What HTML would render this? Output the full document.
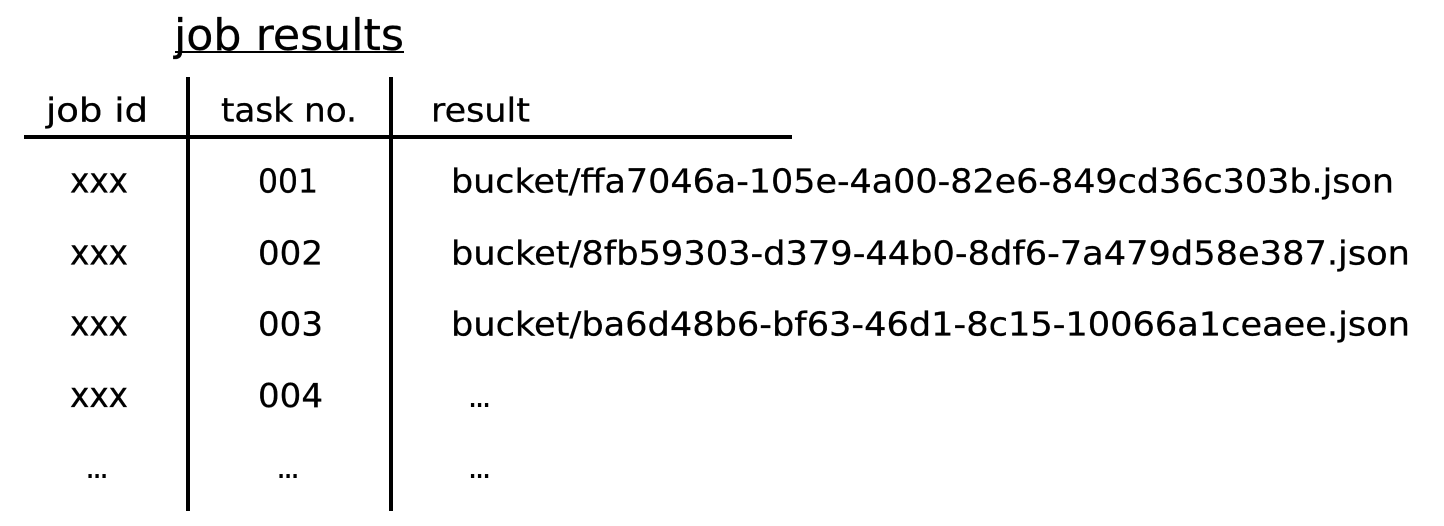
<!DOCTYPE html>
<html>
<head>
<meta charset="utf-8">
<style>
html,body{margin:0;padding:0;background:#fff;width:1444px;height:526px;overflow:hidden}
svg{display:block}
text{font-family:"DejaVu Sans","Liberation Sans",sans-serif;fill:#000;stroke:#000;stroke-width:.3px}
</style>
</head>
<body>
<svg width="1444" height="526" viewBox="0 0 1444 526" xmlns="http://www.w3.org/2000/svg">
<rect width="1444" height="526" fill="#fff"/>
<text x="174" y="50" font-size="44" textLength="230" lengthAdjust="spacingAndGlyphs">job results</text>
<rect x="175" y="51" width="229" height="2" fill="#000"/>
<rect x="186" y="77" width="4" height="434" fill="#000"/>
<rect x="389" y="77" width="4" height="434" fill="#000"/>
<rect x="24" y="135" width="768" height="4" fill="#000"/>

<g font-size="33">
<text x="46" y="121.5" textLength="102" lengthAdjust="spacingAndGlyphs">job id</text>
<text x="221" y="121.5" textLength="136" lengthAdjust="spacingAndGlyphs">task no.</text>
<text x="431" y="121.5" textLength="99" lengthAdjust="spacingAndGlyphs">result</text>

<text x="70" y="192.5" font-size="35" textLength="58" lengthAdjust="spacingAndGlyphs">xxx</text>
<text x="70" y="264.5" font-size="35" textLength="58" lengthAdjust="spacingAndGlyphs">xxx</text>
<text x="70" y="335.5" font-size="35" textLength="58" lengthAdjust="spacingAndGlyphs">xxx</text>
<text x="70" y="407" font-size="35" textLength="58" lengthAdjust="spacingAndGlyphs">xxx</text>

<text x="258" y="192.5" textLength="60" lengthAdjust="spacingAndGlyphs">001</text>
<text x="258" y="264.5" textLength="65" lengthAdjust="spacingAndGlyphs">002</text>
<text x="258" y="335.5" textLength="65" lengthAdjust="spacingAndGlyphs">003</text>
<text x="258" y="407" textLength="65" lengthAdjust="spacingAndGlyphs">004</text>

<text x="451" y="192.5" textLength="943" lengthAdjust="spacingAndGlyphs">bucket/ffa7046a-105e-4a00-82e6-849cd36c303b.json</text>
<text x="451" y="264.5" textLength="959" lengthAdjust="spacingAndGlyphs">bucket/8fb59303-d379-44b0-8df6-7a479d58e387.json</text>
<text x="451" y="335.5" textLength="959" lengthAdjust="spacingAndGlyphs">bucket/ba6d48b6-bf63-46d1-8c15-10066a1ceaee.json</text>
</g>
<g font-size="32" letter-spacing="-3.2" style="stroke:none">
<text x="467.5" y="407" style="stroke:none">...</text>
<text x="85" y="478" style="stroke:none">...</text>
<text x="276" y="478" style="stroke:none">...</text>
<text x="467.5" y="478" style="stroke:none">...</text>
</g>
</svg>
</body>
</html>
